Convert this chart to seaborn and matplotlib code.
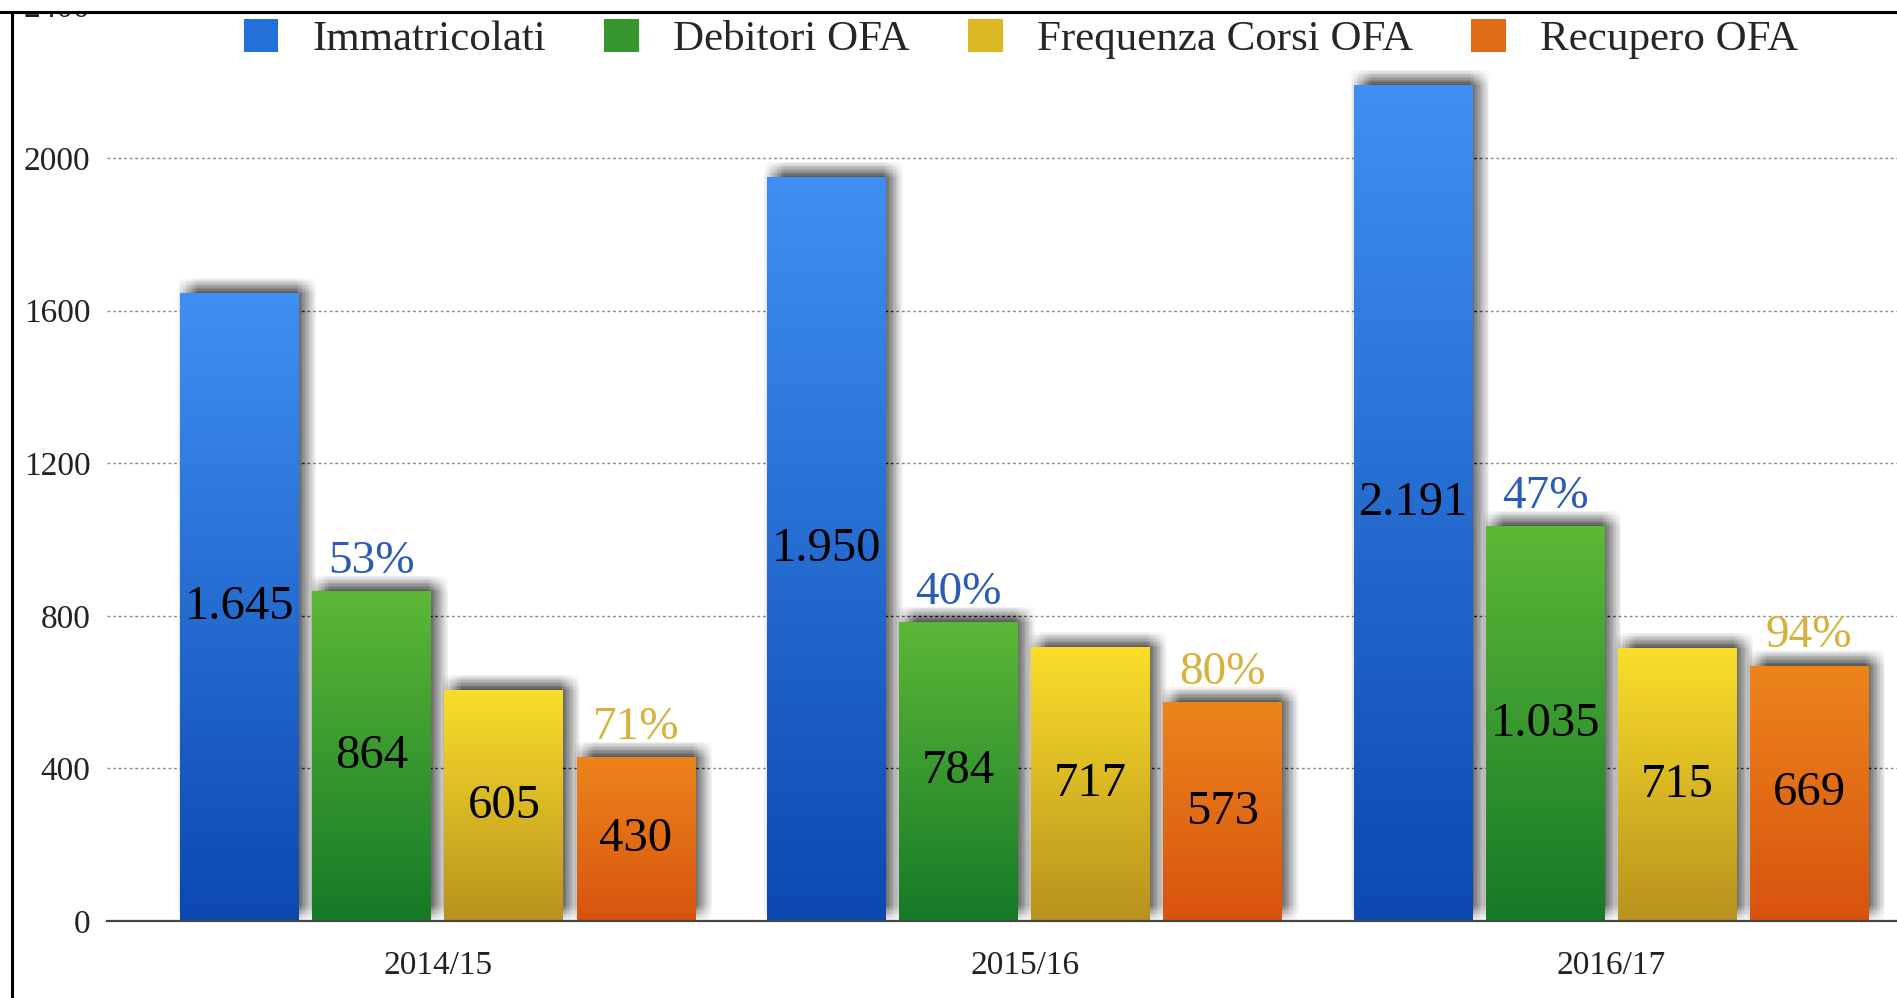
import numpy as np
import pandas as pd
import matplotlib
matplotlib.use("Agg")
import matplotlib.pyplot as plt
import matplotlib.patheffects as pe
from matplotlib.colors import LinearSegmentedColormap
from matplotlib.lines import Line2D
from matplotlib.patches import Rectangle
import seaborn as sns

# data
anni = ["2014/15", "2015/16", "2016/17"]
serie = ["Immatricolati", "Debitori OFA", "Frequenza Corsi OFA", "Recupero OFA"]
immatricolati = [1645, 1950, 2191]
debitori_ofa = [864, 784, 1035]
frequenza_corsi = [605, 717, 715]
recupero_ofa = [430, 573, 669]
perc_debitori = ["53%", "40%", "47%"]
perc_recupero = ["71%", "80%", "94%"]
y_ticks = [0, 400, 800, 1200, 1600, 2000, 2400]

# colours: (mid for legend, top, bottom of the gradient)
colori = ["#2470db", "#35972e", "#dcb924", "#e26c15"]
grad_top = ["#3f90f2", "#5cb836", "#fade2a", "#ec851c"]
grad_bot = ["#0c48b0", "#157a27", "#b8921d", "#d8530e"]

df = pd.DataFrame({
    "Anno": anni * 4,
    "Serie": [s for s in serie for _ in anni],
    "Valore": immatricolati + debitori_ofa + frequenza_corsi + recupero_ofa,
})

sns.set_style("white")
plt.rcParams["font.family"] = ["Liberation Serif", "DejaVu Serif"]

W, H = 1897, 998
fig = plt.figure(figsize=(W / 100, H / 100), dpi=100)
ax = fig.add_axes([107 / W, 77 / H, 1 - 107 / W, 915.6 / H])

sns.barplot(data=df, x="Anno", y="Valore", hue="Serie", hue_order=serie,
            palette=colori, width=0.9, gap=0.1, saturation=1,
            edgecolor="none", linewidth=0, ax=ax)

# soft drop shadow (up / right) on every bar: many faint shifted copies
ombra = [pe.SimplePatchShadow(offset=(dx, dy), shadow_rgbFace="black", alpha=0.004)
         for dx in range(-2, 13) for dy in range(0, 12)]
for i, cont in enumerate(ax.containers):
    cmap = LinearSegmentedColormap.from_list(f"g{i}", [grad_bot[i], grad_top[i]])
    for p in cont.patches:
        p.set_path_effects(ombra + [pe.Normal()])
        x0, w, h = p.get_x(), p.get_width(), p.get_height()
        im = ax.imshow(np.linspace(0, 1, 256).reshape(-1, 1), cmap=cmap,
                       extent=[x0, x0 + w, 0, h], origin="lower",
                       aspect="auto", zorder=p.get_zorder() + 0.1)
        im.set_clip_path(p)

# value labels in the middle of the bars (Italian thousands separator)
for cont, vals in zip(ax.containers, [immatricolati, debitori_ofa, frequenza_corsi, recupero_ofa]):
    etich = [f"{v:,}".replace(",", ".") for v in vals]
    for t in ax.bar_label(cont, labels=etich, label_type="center", fontsize=35, color="black"):
        t.set_zorder(5)

# percentage labels on top of green and orange bars
for t in ax.bar_label(ax.containers[1], labels=perc_debitori, padding=6,
                      fontsize=34, color="#2a5cb5"):
    t.set_zorder(5)
for t in ax.bar_label(ax.containers[3], labels=perc_recupero, padding=6,
                      fontsize=34, color="#d6b23c"):
    t.set_zorder(5)

ax.set_xlim(-0.564, 2.487)
ax.set_ylim(0, 2400)
ax.set_yticks(y_ticks)
ax.set_xlabel("")
ax.set_ylabel("")
ax.set_axisbelow(True)
ax.yaxis.grid(True, linestyle=(0, (2, 2)), color="#8a8a8a", linewidth=1)
ax.xaxis.grid(False)
for s in ["top", "right", "left"]:
    ax.spines[s].set_visible(False)
ax.spines["bottom"].set_color("#444444")
ax.spines["bottom"].set_linewidth(1.6)
ax.spines["bottom"].set_zorder(6)
ax.tick_params(axis="x", length=0, pad=21, labelsize=24, labelcolor="#222222")
ax.tick_params(axis="y", length=0, pad=12, labelsize=24, labelcolor="#222222")

handles, labels = ax.get_legend_handles_labels()
ax.legend(handles, labels, ncol=4, frameon=False, loc="center",
          bbox_to_anchor=(1021 / W, 1 - 39 / H), bbox_transform=fig.transFigure,
          fontsize=31, handlelength=0.8, handleheight=0.8,
          handletextpad=0.8, columnspacing=1.35)

# frame of the cropped screenshot
fig.add_artist(Rectangle((0, 1 - 11 / H), 1, 11 / H, transform=fig.transFigure,
                         facecolor="white", edgecolor="none", zorder=20))
fig.add_artist(Line2D([0, 1], [1 - 12 / H, 1 - 12 / H], transform=fig.transFigure,
                      color="black", linewidth=2.2, zorder=21))
fig.add_artist(Line2D([12 / W, 12 / W], [0, 1 - 12 / H], transform=fig.transFigure,
                      color="black", linewidth=2.2, zorder=21))

fig.savefig("out.png", dpi=100)
